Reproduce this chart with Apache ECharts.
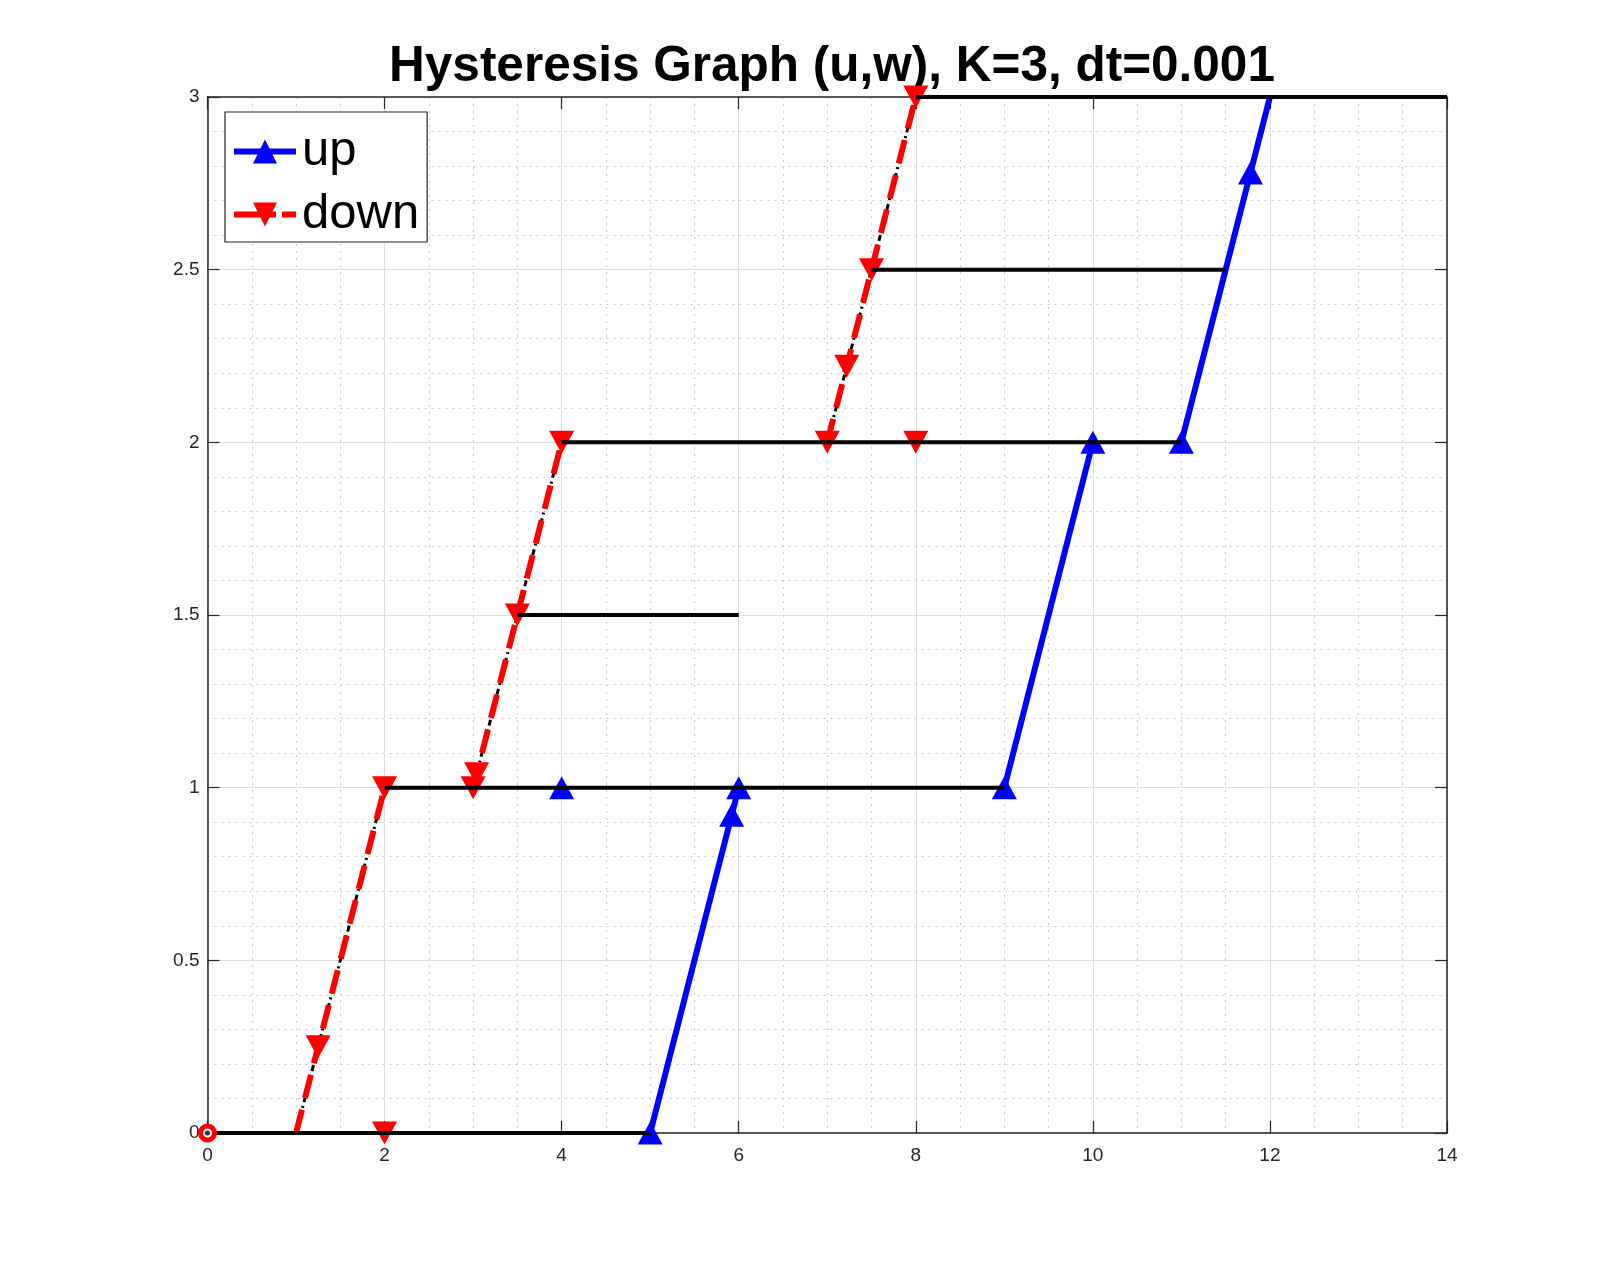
<!DOCTYPE html>
<html><head><meta charset="utf-8">
<script src="https://cdn.jsdelivr.net/npm/echarts@6/dist/echarts.min.js"></script>
<style>html,body{margin:0;padding:0;background:#fff}#c{width:1600px;height:1274px}</style>
</head><body><div id="c"></div>
<script>
const titleText = 'Hysteresis Graph (u,w), K=3, dt=0.001';
const xTickLabels = ['0','2','4','6','8','10','12','14'];
const yTickLabels = ['0','0.5','1','1.5','2','2.5','3'];
// "up" branch (blue)
const upLine = [[5,0],[6,1],null,[9,1],[10,2],null,[11,2],[12,3]];
const upMarks = [[5,0],[5.92,0.92],[6,1],[4,1],[9,1],[10,2],[11,2],[11.78,2.78]];
// "down" branch (red)
const downLine = [[1,0],[2,1],null,[3,1],[4,2],null,[7,2],[8,3]];
const downMarks = [[1.25,0.25],[2,1],[2,0],[3,1],[3.04,1.04],[3.5,1.5],[4,2],[7,2],[7.22,2.22],[7.5,2.5],[8,3],[8,2]];
// black plateaus [xStart, xEnd, level]
const plateaus = [[0,5,0],[2,9,1],[3.5,6,1.5],[4,11,2],[7.5,11.5,2.5],[8,14,3]];
// black dash-dot along the down ramps
const ramps = [[1,0],[2,1],null,[3,1],[4,2],null,[7,2],[8,3]];
const startPoint = [[0,0]];

const plateauData = [];
plateaus.forEach(p => { plateauData.push([p[0],p[2]],[p[1],p[2]],null); });

const downTri = 'path://M0,0 L10,0 L5,9 Z';
const upTri = 'path://M5,0 L10,9 L0,9 Z';
const FONT = 'Liberation Sans';

const chart = echarts.init(document.getElementById('c'), null, {renderer:'canvas'});
const axisCommonX = {
  type:'value', min:0, max:14, interval:2,
  axisLine:{show:true, onZero:false, lineStyle:{color:'#262626', width:1.5}},
  axisTick:{show:true, inside:true, length:12, lineStyle:{color:'#262626', width:1.2}},
  minorTick:{show:false, splitNumber:4},
};
const axisCommonY = {
  type:'value', min:0, max:3, interval:0.5,
  axisLine:{show:true, onZero:false, lineStyle:{color:'#262626', width:1.5}},
  axisTick:{show:true, inside:true, length:12, lineStyle:{color:'#262626', width:1.2}},
  minorTick:{show:false, splitNumber:5},
};
chart.setOption({
  animation:false,
  backgroundColor:'#ffffff',
  title:{
    text:titleText, left:827, top:37, textAlign:'center',
    textStyle:{fontFamily:FONT, fontWeight:'bold', fontSize:49.5, color:'#000'}
  },
  grid:{left:207.5, right:153, top:97, bottom:141, containLabel:false},
  legend:{
    data:[
      {name:'up', lineStyle:{width:6, type:'solid'}},
      {name:'down', lineStyle:{width:6, type:[42,6]}}
    ],
    orient:'vertical', left:225, top:112,
    padding:[15,8,3,6], itemGap:14, itemWidth:62, itemHeight:30,
    backgroundColor:'#fff', borderColor:'#262626', borderWidth:1.2, borderRadius:0,
    lineStyle:{width:6},
    textStyle:{fontFamily:FONT, fontSize:49, color:'#000', padding:[0,0,0,1]}
  },
  xAxis:[
    Object.assign({}, axisCommonX, {
      position:'bottom',
      axisLabel:{show:true, margin:13, fontFamily:FONT, fontSize:19, color:'#262626',
        formatter:(v)=> xTickLabels[Math.round(v/2)] ?? ''},
      splitLine:{show:true, lineStyle:{color:'#dedede', width:1}},
      minorSplitLine:{show:true, lineStyle:{color:'#c8c8c8', width:1, type:[2,5]}}
    }),
    Object.assign({}, axisCommonX, {position:'top', axisLabel:{show:false}, splitLine:{show:false}})
  ],
  yAxis:[
    Object.assign({}, axisCommonY, {
      position:'left',
      axisLabel:{show:true, margin:8, fontFamily:FONT, fontSize:19, color:'#262626',
        formatter:(v)=> yTickLabels[Math.round(v*2)] ?? ''},
      splitLine:{show:true, lineStyle:{color:'#dedede', width:1}},
      minorSplitLine:{show:true, lineStyle:{color:'#c8c8c8', width:1, type:[2,5]}}
    }),
    Object.assign({}, axisCommonY, {position:'right', axisLabel:{show:false}, splitLine:{show:false}})
  ],
  series:[
    {name:'up', type:'line', data:upLine, connectNulls:false, clip:false,
     symbol:upTri, symbolSize:[25,23], showSymbol:false,
     lineStyle:{color:'#0000ff', width:6}, itemStyle:{color:'#0000ff'}, z:2},
    {name:'upMarks', type:'scatter', data:upMarks, clip:false,
     symbol:upTri, symbolSize:[25,23], itemStyle:{color:'#0000ff', opacity:1}, z:3},
    {name:'ramps', type:'line', data:ramps, connectNulls:false, clip:false, symbol:'none',
     lineStyle:{color:'#000', width:3, type:[6,4,2,4]}, z:4},
    {name:'down', type:'line', data:downLine, connectNulls:false, clip:false,
     symbol:downTri, symbolSize:[25,23], showSymbol:false,
     lineStyle:{color:'#ff0000', width:6, type:[24,12]}, itemStyle:{color:'#ff0000'}, z:5},
    {name:'downMarks', type:'scatter', data:downMarks, clip:false,
     symbol:downTri, symbolSize:[25,23], itemStyle:{color:'#ff0000', opacity:1}, z:6},
    {name:'plateaus', type:'line', data:plateauData, connectNulls:false, clip:false, symbol:'none',
     lineStyle:{color:'#000', width:4}, z:7},
    {name:'start', type:'scatter', data:startPoint, clip:false, symbol:'circle', symbolSize:14,
     itemStyle:{color:'#ffffff', borderColor:'#ff0000', borderWidth:5, opacity:1}, z:8},
    {name:'startDot', type:'scatter', data:startPoint, clip:false, symbol:'circle', symbolSize:5,
     itemStyle:{color:'#000'}, z:9}
  ]
});
</script></body></html>
